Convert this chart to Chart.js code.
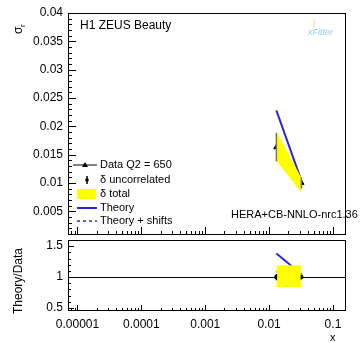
<!DOCTYPE html>
<html>
<head>
<meta charset="utf-8">
<script src="https://cdn.jsdelivr.net/npm/chart.js@4.4.1/dist/chart.umd.min.js"></script>
<style>
  html, body { margin: 0; padding: 0; background: #fff; }
  #wrap { position: relative; width: 363px; height: 343px; overflow: hidden; }
  canvas { position: absolute; left: 0; }
  #top { top: 0; }
  #bot { top: 228px; }
</style>
</head>
<body>
<div id="wrap">
  <canvas id="top" width="363" height="240"></canvas>
  <canvas id="bot" width="363" height="115"></canvas>
</div>
<script>
// values
const xPoints = [0.013, 0.032];
const dataVals = [0.0163, 0.0100];
const uncorrErr = [0.0025, 0.0010];
const totalHigh = [0.0191, 0.0109];
const totalLow = [0.0139, 0.0083];
const theoryVals = [0.0228, 0.0104];
const shiftVals = [0.0179, 0.0104];

const ratioData = [1, 1];
const ratioErr = [0.05, 0.04];
const ratioHigh = [1.19, 1.19];
const ratioLow = [0.84, 0.84];
const ratioTheory = [1.38, 1.05];
const ratioShift = [1.09, 1.03];

const xTicks = [1e-5, 1e-4, 1e-3, 1e-2, 1e-1];
const xTickLabels = ["0.00001", "0.0001", "0.001", "0.01", "0.1"];
const yTicks = [0.005, 0.01, 0.015, 0.02, 0.025, 0.03, 0.035, 0.04];
const yTickLabels = ["0.005", "0.01", "0.015", "0.02", "0.025", "0.03", "0.035", "0.04"];
const rTicks = [0.5, 1, 1.5];
const rTickLabels = ["0.5", "1", "1.5"];

const FONT = '"Liberation Sans", Arial, sans-serif';
const BLUE = "#2a2ad2";
const YELLOW = "#ffff00";
const X_MIN = 7.1e-6, X_MAX = 0.16;

const pts = (arr) => xPoints.map((x, i) => ({ x: x, y: arr[i] }));

function fixWidth(w) {
  return (s) => { s.width = w; s.paddingTop = 0; s.paddingBottom = 0; s.paddingLeft = 0; s.paddingRight = 0; };
}
function fixHeight(h) {
  return (s) => { s.height = h; s.paddingTop = 0; s.paddingBottom = 0; s.paddingLeft = 0; s.paddingRight = 0; };
}
function setTicks(vals) {
  return (s) => { s.ticks = vals.map((v) => ({ value: v })); };
}

function frameTicks(chart, cfg) {
  const { ctx, chartArea: a, scales } = chart;
  const xs = scales.x, ys = scales.y;
  ctx.save();
  ctx.strokeStyle = "#000";
  ctx.lineWidth = 1;
  ctx.strokeRect(a.left + 0.5, a.top + 0.5, a.right - a.left - 1, a.bottom - a.top - 1);
  ctx.beginPath();
  // log x ticks, pointing up from the bottom edge
  const k0 = Math.floor(Math.log10(xs.min)), k1 = Math.ceil(Math.log10(xs.max));
  for (let k = k0; k <= k1; k++) {
    for (let m = 1; m <= 9; m++) {
      const v = m * Math.pow(10, k);
      if (v < xs.min || v > xs.max) continue;
      const px = Math.round(xs.getPixelForValue(v)) + 0.5;
      ctx.moveTo(px, a.bottom);
      ctx.lineTo(px, a.bottom - (m === 1 ? cfg.xMajor : cfg.xMinor));
    }
  }
  // y ticks on the left edge
  const st = cfg.yStep;
  for (let i = Math.ceil(ys.min / st - 1e-9); i * st <= ys.max + 1e-9; i++) {
    const v = i * st;
    const major = cfg.yMajorVals.some((t) => Math.abs(t - v) < st / 10);
    const py = Math.round(ys.getPixelForValue(v)) + 0.5;
    ctx.moveTo(a.left, py);
    ctx.lineTo(a.left + (major ? cfg.yMajor : cfg.yMinor), py);
  }
  ctx.stroke();
  ctx.restore();
}

function errorBars(chart, vals, errs, color) {
  const { ctx, scales } = chart;
  ctx.save();
  ctx.strokeStyle = color;
  ctx.lineWidth = 1.5;
  ctx.beginPath();
  xPoints.forEach((x, i) => {
    const px = scales.x.getPixelForValue(x);
    ctx.moveTo(px, scales.y.getPixelForValue(vals[i] - errs[i]));
    ctx.lineTo(px, scales.y.getPixelForValue(vals[i] + errs[i]));
  });
  ctx.stroke();
  ctx.restore();
}

const topPlugin = {
  id: "topDeco",
  afterDatasetsDraw(chart) {
    errorBars(chart, dataVals, uncorrErr, "#777");
  },
  afterDraw(chart) {
    frameTicks(chart, { xMajor: 8, xMinor: 4, yStep: 0.001, yMajorVals: yTicks, yMajor: 8, yMinor: 4 });
    const ctx = chart.ctx;
    ctx.save();
    ctx.fillStyle = "#000";
    ctx.textBaseline = "middle";
    ctx.font = "12px " + FONT;
    ctx.fillText("H1 ZEUS Beauty", 80, 26);

    // xFitter logo
    ctx.font = "italic 9px " + FONT;
    ctx.fillStyle = "#8ccff2";
    ctx.fillText("xFitter", 308, 32);
    ctx.strokeStyle = "#f2d98c";
    ctx.beginPath(); ctx.moveTo(314, 19); ctx.lineTo(314, 28); ctx.stroke();

    // y title
    ctx.fillStyle = "#000";
    ctx.save();
    ctx.translate(19, 34);
    ctx.rotate(-Math.PI / 2);
    ctx.font = "12px " + FONT;
    ctx.fillText("σ", 0, 0);
    ctx.font = "8px " + FONT;
    ctx.fillText("r", 7, 4);
    ctx.restore();

    // legend
    ctx.font = "11px " + FONT;
    const tx = 100;
    // Data
    ctx.strokeStyle = "#000"; ctx.lineWidth = 1;
    ctx.beginPath(); ctx.moveTo(73, 165); ctx.lineTo(97, 165); ctx.stroke();
    ctx.beginPath(); ctx.moveTo(85, 162); ctx.lineTo(88, 167); ctx.lineTo(82, 167); ctx.closePath(); ctx.fill();
    ctx.fillText("Data Q2 = 650", tx, 165);
    // uncorrelated
    ctx.beginPath(); ctx.moveTo(87, 176); ctx.lineTo(87, 184); ctx.lineWidth = 1.5; ctx.stroke();
    ctx.beginPath(); ctx.arc(87, 180, 1.8, 0, Math.PI * 2); ctx.fill();
    ctx.fillText("δ uncorrelated", tx, 180);
    // total
    ctx.fillStyle = YELLOW; ctx.fillRect(77, 189, 19, 10);
    ctx.fillStyle = "#000";
    ctx.fillText("δ total", tx, 194);
    // theory
    ctx.strokeStyle = BLUE; ctx.lineWidth = 2;
    ctx.beginPath(); ctx.moveTo(77, 208); ctx.lineTo(97, 208); ctx.stroke();
    ctx.fillText("Theory", tx, 208);
    // shifts
    ctx.lineWidth = 1.5; ctx.setLineDash([3, 3]);
    ctx.beginPath(); ctx.moveTo(77, 221); ctx.lineTo(97, 221); ctx.stroke();
    ctx.setLineDash([]);
    ctx.fillText("Theory + shifts", tx, 221);

    ctx.fillText("HERA+CB-NNLO-nrc1.36", 231, 215);
    ctx.restore();
  },
};

const botPlugin = {
  id: "botDeco",
  beforeDatasetsDraw(chart) {
    const { ctx, chartArea: a, scales } = chart;
    const py = Math.round(scales.y.getPixelForValue(1)) + 0.5;
    ctx.save();
    ctx.strokeStyle = "#000"; ctx.lineWidth = 1;
    ctx.beginPath(); ctx.moveTo(a.left, py); ctx.lineTo(a.right, py); ctx.stroke();
    ctx.restore();
  },
  afterDatasetsDraw(chart) {
    errorBars(chart, ratioData, ratioErr, "#000");
  },
  afterDraw(chart) {
    frameTicks(chart, { xMajor: 6, xMinor: 3, yStep: 0.1, yMajorVals: rTicks, yMajor: 6, yMinor: 3 });
    const ctx = chart.ctx;
    ctx.save();
    ctx.fillStyle = "#000";
    ctx.textBaseline = "middle";
    ctx.translate(19, 53);
    ctx.rotate(-Math.PI / 2);
    ctx.textAlign = "center";
    ctx.font = "12px " + FONT;
    ctx.fillText("Theory/Data", 0, 0);
    ctx.restore();
    ctx.save();
    ctx.font = "11px " + FONT;
    ctx.fillStyle = "#000";
    ctx.textBaseline = "middle";
    ctx.fillText("x", 330, 110);
    ctx.restore();
  },
};

function xAxis(display) {
  return {
    type: "logarithmic",
    min: X_MIN,
    max: X_MAX,
    display: display,
    afterBuildTicks: setTicks(xTicks),
    afterFit: fixHeight(display ? 32 : 0),
    grid: { display: false, drawTicks: false },
    border: { display: false },
    ticks: {
      padding: 6,
      color: "#000",
      font: { family: FONT, size: 12 },
      maxRotation: 0,
      autoSkip: false,
      callback: (v, i) => xTickLabels[i],
    },
  };
}

const lineBase = { pointRadius: 0, tension: 0, fill: false };

new Chart(document.getElementById("top"), {
  type: "line",
  data: {
    datasets: [
      { ...lineBase, data: pts(totalHigh), borderWidth: 0, fill: "+1", backgroundColor: YELLOW, borderColor: "rgba(0,0,0,0)" },
      { ...lineBase, data: pts(totalLow), borderWidth: 0, borderColor: "rgba(0,0,0,0)" },
      { ...lineBase, data: pts(theoryVals), borderColor: BLUE, borderWidth: 2 },
      { ...lineBase, data: pts(shiftVals), borderColor: BLUE, borderWidth: 1.5, borderDash: [3, 3] },
      { data: pts(dataVals), showLine: false, pointStyle: "triangle", pointRadius: 3, backgroundColor: "#000", borderColor: "#000" },
    ],
  },
  options: {
    responsive: false,
    animation: false,
    devicePixelRatio: 1,
    layout: { padding: { left: 0, right: 17, top: 13, bottom: 2 } },
    plugins: { legend: { display: false }, tooltip: { enabled: false } },
    scales: {
      x: xAxis(false),
      y: {
        min: 0.0008,
        max: 0.04,
        afterBuildTicks: setTicks(yTicks),
        afterFit: fixWidth(68),
        grid: { display: false, drawTicks: false },
        border: { display: false },
        ticks: { padding: 5, color: "#000", font: { family: FONT, size: 12 }, callback: (v, i) => yTickLabels[i] },
      },
    },
  },
  plugins: [topPlugin],
});

new Chart(document.getElementById("bot"), {
  type: "line",
  data: {
    datasets: [
      { ...lineBase, data: pts(ratioHigh), borderWidth: 0, fill: "+1", backgroundColor: YELLOW, borderColor: "rgba(0,0,0,0)" },
      { ...lineBase, data: pts(ratioLow), borderWidth: 0, borderColor: "rgba(0,0,0,0)" },
      { ...lineBase, data: pts(ratioTheory), borderColor: BLUE, borderWidth: 2 },
      { ...lineBase, data: pts(ratioShift), borderColor: BLUE, borderWidth: 1.5, borderDash: [3, 3] },
      { data: pts(ratioData), showLine: false, pointStyle: "rect", pointRadius: 2, backgroundColor: "#000", borderColor: "#000" },
    ],
  },
  options: {
    responsive: false,
    animation: false,
    devicePixelRatio: 1,
    layout: { padding: { left: 0, right: 17, top: 12, bottom: 0 } },
    plugins: { legend: { display: false }, tooltip: { enabled: false } },
    scales: {
      x: xAxis(true),
      y: {
        min: 0.45,
        max: 1.6,
        afterBuildTicks: setTicks(rTicks),
        afterFit: fixWidth(68),
        grid: { display: false, drawTicks: false },
        border: { display: false },
        ticks: { padding: 5, color: "#000", font: { family: FONT, size: 12 }, callback: (v, i) => rTickLabels[i] },
      },
    },
  },
  plugins: [botPlugin],
});
</script>
</body>
</html>
